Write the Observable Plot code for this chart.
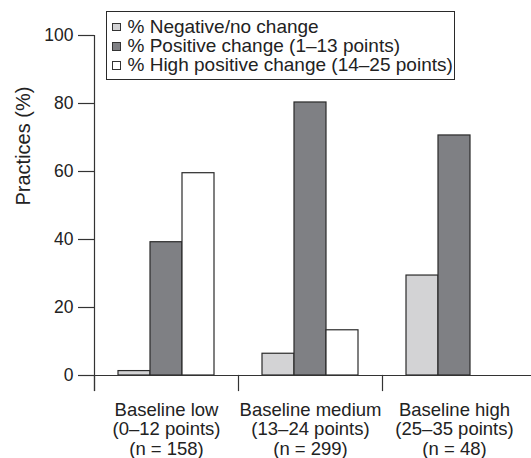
<!DOCTYPE html>
<html>
<head>
<meta charset="utf-8">
<script src="https://cdn.jsdelivr.net/npm/d3@7"></script>
<script src="https://cdn.jsdelivr.net/npm/@observablehq/plot@0.6"></script>
<style>
  html, body { margin: 0; padding: 0; background: #fff; }
  #wrap { position: relative; width: 531px; height: 458px; overflow: hidden; font-family: "Liberation Sans", Arial, Helvetica, sans-serif; color: #222; }
  #legend { position: absolute; left: 106px; top: 11px; width: 349px; height: 69px; border: 1.5px solid #2a2a2a; background: #fff; box-sizing: border-box; padding: 5px 0 0 5px; font-size: 19px; line-height: 19.2px; }
  .row { display: block; height: 19.2px; white-space: nowrap; }
  .sw { display: inline-block; width: 8.5px; height: 8.5px; box-sizing: border-box; border: 1px solid #333; margin-right: 7px; vertical-align: 1.7px; }
</style>
</head>
<body>
<div id="wrap"></div>
<script>
const groups = ["Baseline low", "Baseline medium", "Baseline high"];
const groupLabels = ["Baseline low\n(0–12 points)\n(n = 158)", "Baseline medium\n(13–24 points)\n(n = 299)", "Baseline high\n(25–35 points)\n(n = 48)"];
const series = ["% Negative/no change", "% Positive change (1–13 points)", "% High positive change (14–25 points)"];
const negative = [1.3, 6.4, 29.4];
const positive = [39.2, 80.3, 70.6];
const highPositive = [59.5, 13.3, 0];
const yTicks = [0, 20, 40, 60, 80, 100];
const yLabel = "Practices (%)";
const colors = ["#d3d3d5", "#7f8084", "#ffffff"];

const seriesValues = [negative, positive, highPositive];
const table = groups.flatMap((g, gi) => series.map((s, si) => ({group: g, series: s, value: seriesValues[si][gi]})));

const plotH = 340;
const chart = Plot.plot({
  width: 531,
  height: 458,
  marginLeft: 93,
  marginRight: 5,
  marginTop: 35,
  marginBottom: 83,
  fx: {domain: groups, padding: 0, axis: null},
  x: {domain: series, paddingInner: 0, paddingOuter: 0.7, axis: null},
  y: {domain: [0, 100], axis: null},
  color: {domain: series, range: colors},
  style: {fontFamily: "'Liberation Sans', Arial, Helvetica, sans-serif", fontSize: "17.5px", color: "#222", background: "transparent"},
  marks: [
    Plot.barY(table, {fx: "group", x: "series", y: "value", fill: "series", stroke: "#2a2a2a", strokeWidth: 1.2}),
    Plot.ruleY([0], {stroke: "#333", strokeWidth: 1.2, insetRight: -5}),
    Plot.frame({anchor: "left", facetAnchor: "left", stroke: "#333", strokeWidth: 1.2, insetBottom: -15}),
    Plot.frame({anchor: "left", stroke: "#333", strokeWidth: 1.2, insetTop: plotH, insetBottom: -15}),
    Plot.axisY({ticks: yTicks, tickSize: 16, tickPadding: 5, fontSize: 17.5, label: null, stroke: "#333", fill: "#222", strokeWidth: 1.2}),
    Plot.text([yLabel], {frameAnchor: "left", rotate: -90, dx: -71, fontSize: 20, fill: "#222", facetAnchor: "left"}),
    Plot.text(groups, {fx: d => d, text: (d, i) => groupLabels[i], frameAnchor: "bottom", lineAnchor: "top", dy: 26.5, lineHeight: 1.05, fontSize: 18.5, fill: "#222"})
  ]
});

const wrap = document.getElementById("wrap");
wrap.appendChild(chart);
const legend = document.createElement("div");
legend.id = "legend";
series.forEach((s, i) => {
  const row = document.createElement("div");
  row.className = "row";
  const sw = document.createElement("span");
  sw.className = "sw";
  sw.style.background = colors[i];
  row.appendChild(sw);
  row.appendChild(document.createTextNode(s));
  legend.appendChild(row);
});
wrap.appendChild(legend);
</script>
</body>
</html>
